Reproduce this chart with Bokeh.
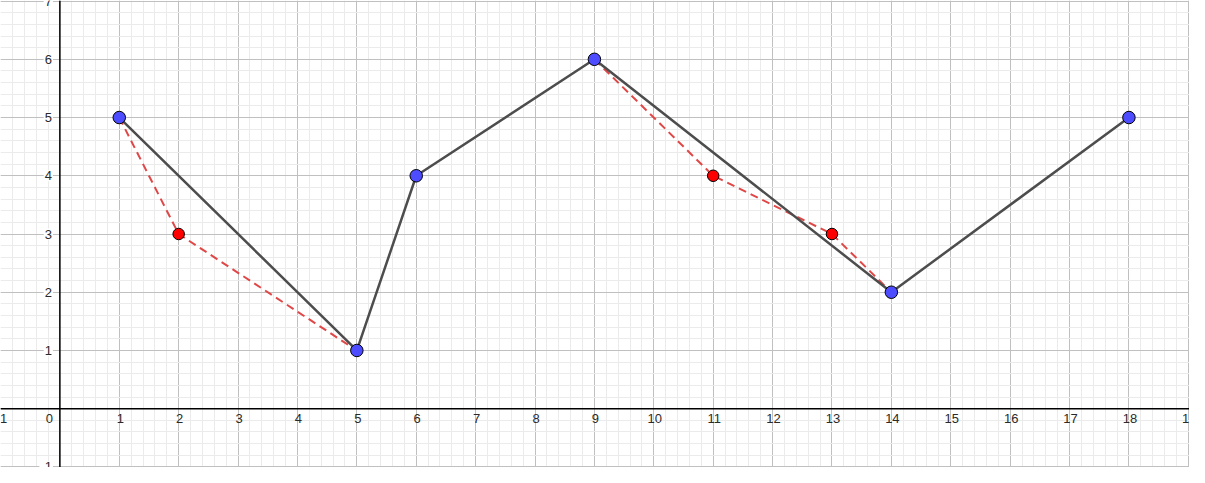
import numpy as np
from bokeh.plotting import figure
from bokeh.models import FixedTicker, Span
from bokeh.core.properties import value
from bokeh.embed import file_html
from bokeh.resources import INLINE

# data
main_x = [1, 5, 6, 9, 14, 18]
main_y = [5, 1, 4, 6, 2, 5]
dash1_x = [1, 2, 5]
dash1_y = [5, 3, 1]
dash2_x = [9, 11, 13, 14]
dash2_y = [6, 4, 3, 2]
red_x = [2, 11, 13]
red_y = [3, 4, 3]
x_tick_vals = [-1] + list(range(1, 20))
y_tick_vals = [-1, 1, 2, 3, 4, 5, 6, 7]

W, H = 1189, 467
p = figure(width=W, height=H, x_range=(-1.0, 19.02), y_range=(-1.01, 7.01),
           output_backend="svg", toolbar_location=None, min_border=0,
           outline_line_color=None)
p.xaxis.visible = False
p.yaxis.visible = False

major = list(range(-2, 21))
minor = [round(v, 1) for v in np.arange(-2, 21, 0.2)]
for g in (p.xgrid, p.ygrid):
    g.ticker = FixedTicker(ticks=major, minor_ticks=minor)
    g.grid_line_color = "#c0c0c0"
    g.grid_line_width = 1
    g.minor_grid_line_color = "#ebebeb"
    g.minor_grid_line_width = 1

p.add_layout(Span(location=0, dimension="width", line_color="black", line_width=1.5))
p.add_layout(Span(location=0, dimension="height", line_color="black", line_width=1.5))

font = value("Liberation Sans")
tc = "#2a2a2a"
p.text(x=x_tick_vals, y=[0] * len(x_tick_vals), text=[str(v) for v in x_tick_vals],
       text_align="center", text_baseline="top", x_offset=1, y_offset=5,
       text_font=font, text_font_size="13px", text_color=tc)
p.text(x=[0], y=[0], text=["0"], text_align="right", text_baseline="top",
       x_offset=-7, y_offset=5, text_font=font, text_font_size="13px", text_color=tc)
p.text(x=[0] * len(y_tick_vals), y=y_tick_vals, text=[str(v) for v in y_tick_vals],
       text_align="right", text_baseline="middle", x_offset=-7,
       text_font=font, text_font_size="13px", text_color=tc,
       background_fill_color="white", padding=1)

p.line(dash1_x, dash1_y, line_color="#e04848", line_width=2, line_dash="8 5")
p.line(dash2_x, dash2_y, line_color="#e04848", line_width=2, line_dash="8 5")
p.line(main_x, main_y, line_color="#4d4d4d", line_width=2.5)

p.scatter(main_x, main_y, size=12.5, fill_color="#4d4dff", line_color="black", line_width=1)
p.scatter(red_x, red_y, size=11.5, fill_color="#ff0000", line_color="black", line_width=1)

open("out.html", "w").write(file_html(p, INLINE))
